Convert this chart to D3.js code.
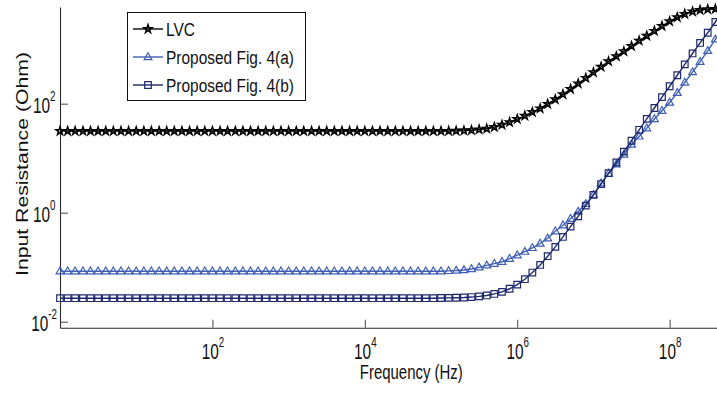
<!DOCTYPE html>
<html><head><meta charset="utf-8">
<script src="https://cdn.jsdelivr.net/npm/d3@7"></script>
<style>html,body{margin:0;padding:0;background:#fff;} svg{display:block;}</style>
</head><body><svg id="c" width="717" height="394"></svg>
<script>
// ---- data ----
const freqHz = [
  1e0,1.26e0,1.58e0,2e0,2.51e0,3.16e0,3.98e0,5.01e0,6.31e0,7.94e0,
  1e1,1.26e1,1.58e1,2e1,2.51e1,3.16e1,3.98e1,5.01e1,6.31e1,7.94e1,
  1e2,1.26e2,1.58e2,2e2,2.51e2,3.16e2,3.98e2,5.01e2,6.31e2,7.94e2,
  1e3,1.26e3,1.58e3,2e3,2.51e3,3.16e3,3.98e3,5.01e3,6.31e3,7.94e3,
  1e4,1.26e4,1.58e4,2e4,2.51e4,3.16e4,3.98e4,5.01e4,6.31e4,7.94e4,
  1e5,1.26e5,1.58e5,2e5,2.51e5,3.16e5,3.98e5,5.01e5,6.31e5,7.94e5,
  1e6,1.26e6,1.58e6,2e6,2.51e6,3.16e6,3.98e6,5.01e6,6.31e6,7.94e6,
  1e7,1.26e7,1.58e7,2e7,2.51e7,3.16e7,3.98e7,5.01e7,6.31e7,7.94e7,
  1e8,1.26e8,1.58e8,2e8,2.51e8,3.16e8,3.98e8,5.01e8
];
const lvcOhm = [
  31.5,31.5,31.5,31.5,31.5,31.5,31.5,31.5,31.5,31.5,
  31.5,31.5,31.5,31.5,31.5,31.5,31.5,31.5,31.5,31.5,
  31.5,31.5,31.5,31.5,31.5,31.5,31.5,31.5,31.5,31.5,
  31.5,31.5,31.5,31.5,31.5,31.5,31.5,31.5,31.5,31.5,
  31.5,31.5,31.5,31.5,31.5,31.5,31.5,31.5,31.5,31.5,
  31.5,31.6,31.7,32.0,32.6,33.6,34.7,37.2,40.9,45.7,
  52.2,60.0,70.0,81.7,98.9,119.7,148.6,185.4,233.9,296.5,
  375,475,597,738,912,1140,1429,1758,2158,2661,
  3236,3846,4416,4898,5224,5395,5470,5495
];
const figAOhm = [
  0.0845,0.0845,0.0845,0.0845,0.0845,0.0845,0.0845,0.0845,0.0845,0.0845,
  0.0845,0.0845,0.0845,0.0845,0.0845,0.0845,0.0845,0.0845,0.0845,0.0845,
  0.0845,0.0845,0.0845,0.0845,0.0845,0.0845,0.0845,0.0845,0.0845,0.0845,
  0.0845,0.0845,0.0845,0.0845,0.0845,0.0845,0.0845,0.0845,0.0845,0.0845,
  0.0845,0.0845,0.0845,0.0845,0.0845,0.0845,0.0845,0.0845,0.0845,0.0845,
  0.0845,0.0855,0.0867,0.0887,0.0927,0.0993,0.108,0.116,0.126,0.143,
  0.166,0.193,0.226,0.272,0.339,0.457,0.589,0.776,1.05,1.45,
  2.14,3.47,5.25,7.76,11.7,17.8,25.1,35.5,52.5,74.1,
  105,158,245,380,589,933,1514,2344
];
const figBOhm = [
  0.027,0.027,0.027,0.027,0.027,0.027,0.027,0.027,0.027,0.027,
  0.027,0.027,0.027,0.027,0.027,0.027,0.027,0.027,0.027,0.027,
  0.027,0.027,0.027,0.027,0.027,0.027,0.027,0.027,0.027,0.027,
  0.027,0.027,0.027,0.027,0.027,0.027,0.027,0.027,0.027,0.027,
  0.027,0.027,0.027,0.027,0.027,0.027,0.027,0.027,0.027,0.027,
  0.0272,0.0273,0.0275,0.0278,0.0283,0.0291,0.0303,0.0323,0.0353,0.0402,
  0.0479,0.0602,0.0797,0.110,0.159,0.236,0.359,0.554,0.861,1.35,
  2.12,3.35,5.30,8.37,13.2,20.9,33.2,52.7,83.4,132,
  209,332,527,834,1300,2000,3150,4900
];
const seriesNames = ["LVC", "Proposed Fig. 4(a)", "Proposed Fig. 4(b)"];
const xTickValues = [1e2, 1e4, 1e6, 1e8];
const xTickExps = ["2", "4", "6", "8"];
const yTickValues = [1e-2, 1e0, 1e2];
const yTickExps = ["-2", "0", "2"];
const xTitle = "Frequency (Hz)";
const yTitle = "Input Resistance (Ohm)";

// ---- drawing ----
const FONT = "'Liberation Sans', Arial, Helvetica, sans-serif";
const svg = d3.select("#c");
const x = d3.scaleLog().domain([1, 5e8]).range([60, 722.9]);
const y = d3.scaleLog().domain([0.00776, 5940]).range([327.7, 7]);

const colors = ["#000000", "#3f5fb3", "#1f2a6e"];
const markerPaths = [
  d3.symbol(d3.symbolStar, 20)(),
  "M0,-4.2L3.9,2.6L-3.9,2.6Z",
  "M-3.3,-3.3H3.3V3.3H-3.3Z"
];
const seriesData = [lvcOhm, figAOhm, figBOhm].map(vals => freqHz.map((f, i) => ({f, r: vals[i]})));

// axes
const axisColor = "#2a2a2a";
const gx = svg.append("g").attr("transform", "translate(0,327.7)")
  .call(d3.axisBottom(x).tickValues(xTickValues).tickFormat("").tickSizeInner(-8).tickSizeOuter(0));
const gy = svg.append("g").attr("transform", "translate(60,0)")
  .call(d3.axisLeft(y).tickValues(yTickValues).tickFormat("").tickSizeInner(-8).tickSizeOuter(0));
[gx, gy].forEach(g => {
  g.select(".domain").attr("stroke", axisColor).attr("stroke-width", 1.1);
  g.selectAll(".tick line").attr("stroke", "#444").attr("stroke-width", 1);
});

// tick labels: "10" with superscript exponent, horizontally condensed like the reference
function powLabel(px, py, exp, anchor) {
  const t = svg.append("text")
    .attr("transform", `translate(${px},${py}) scale(0.7,1)`)
    .attr("text-anchor", anchor)
    .attr("font-family", FONT).attr("font-size", 22).attr("fill", "#111");
  t.append("tspan").text("10");
  t.append("tspan").attr("dy", -12.5).attr("font-size", 14).text(exp);
}
xTickValues.forEach((v, i) => powLabel(x(v) + 0.5, 359, xTickExps[i], "middle"));
yTickValues.forEach((v, i) => powLabel(yTickExps[i].length > 1 ? 57 : 55.5, y(v) + 9.5, yTickExps[i], "end"));

// axis titles
svg.append("text").attr("x", 359.8).attr("y", 379).attr("text-anchor", "start")
  .attr("font-family", FONT).attr("font-size", 20).attr("fill", "#111")
  .attr("textLength", 103).attr("lengthAdjust", "spacingAndGlyphs").text(xTitle);
svg.append("text").attr("transform", "translate(27.5,164) scale(0.82,1) rotate(-90)")
  .attr("text-anchor", "middle").attr("x", 0).attr("y", 0)
  .attr("font-family", FONT).attr("font-size", 21).attr("fill", "#111")
  .attr("textLength", 224).attr("lengthAdjust", "spacingAndGlyphs").text(yTitle);

// series
const line = d3.line().x(d => x(d.f)).y(d => y(d.r));
seriesData.forEach((data, si) => {
  const g = svg.append("g");
  g.append("path").datum(data).attr("d", line).attr("fill", "none")
    .attr("stroke", colors[si]).attr("stroke-width", 1.4);
  g.selectAll("path.m").data(data).enter().append("path").attr("class", "m")
    .attr("transform", d => `translate(${x(d.f)},${y(d.r)})`)
    .attr("d", markerPaths[si]).attr("fill", "none")
    .attr("stroke", colors[si]).attr("stroke-width", si === 0 ? 1.5 : 1.2);
});

// legend
const lg = svg.append("g");
lg.append("rect").attr("x", 127.5).attr("y", 12.5).attr("width", 178).attr("height", 88)
  .attr("fill", "#fff").attr("stroke", "#111").attr("stroke-width", 1);
const rowsY = [29, 57, 85];
const textW = [29, 128, 128];
seriesNames.forEach((name, i) => {
  const cy = rowsY[i];
  lg.append("line").attr("x1", 133).attr("x2", 163).attr("y1", cy).attr("y2", cy)
    .attr("stroke", colors[i]).attr("stroke-width", 1.4);
  lg.append("path").attr("transform", `translate(148,${cy})`).attr("d", markerPaths[i])
    .attr("fill", "none").attr("stroke", colors[i]).attr("stroke-width", i === 0 ? 1.5 : 1.2);
  lg.append("text").attr("x", 166).attr("y", cy + 6.5)
    .attr("font-family", FONT).attr("font-size", 18).attr("fill", "#111")
    .attr("textLength", textW[i]).attr("lengthAdjust", "spacingAndGlyphs").text(name);
});
</script>
</body></html>
